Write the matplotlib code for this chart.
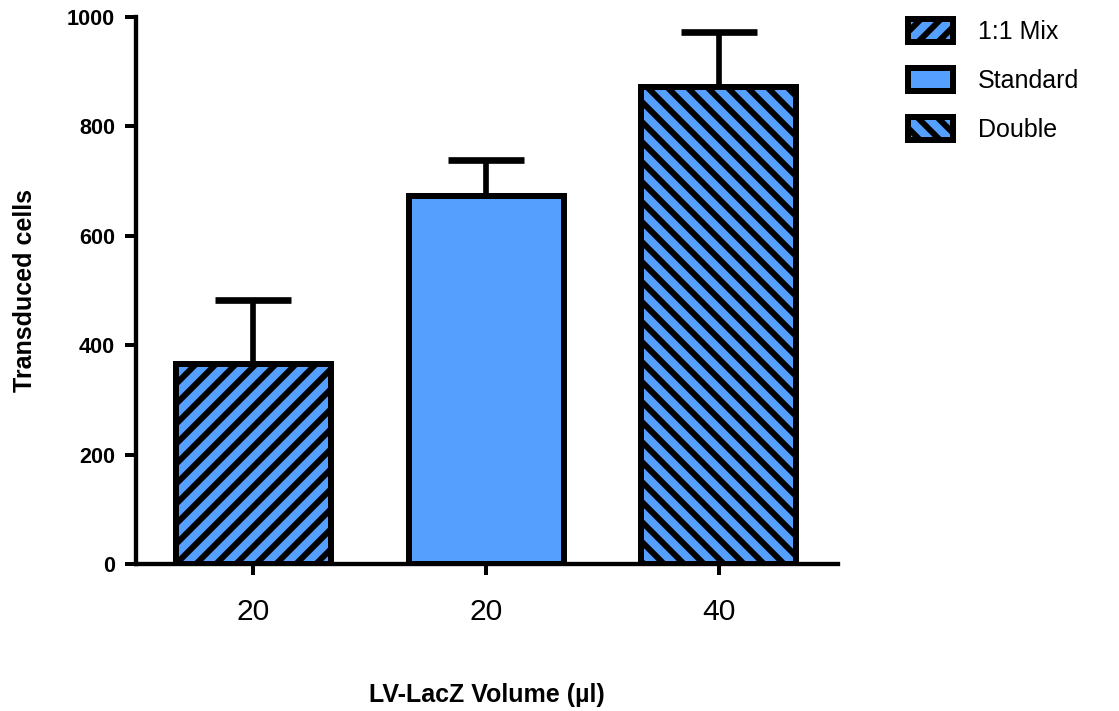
import matplotlib
matplotlib.use("Agg")
import matplotlib.pyplot as plt

# transduction counts per condition (mean and upper error)
groups = ["1:1 Mix", "Standard", "Double"]
volumes = ["20", "20", "40"]
means = [366, 673, 872]
errors = [116, 65, 100]
hatches = ["//", "", "\\\\"]

blue = "#55A0FF"
plt.rcParams['font.family'] = ['Liberation Sans', 'DejaVu Sans']
plt.rcParams['hatch.linewidth'] = 3.6
plt.rcParams['hatch.color'] = 'black'

DPI = 120
fig = plt.figure(figsize=(1119 / DPI, 711 / DPI), dpi=DPI)
ax = fig.add_axes([0.1215, 0.2068, 0.7485 - 0.1215, 0.976 - 0.2068])

x = list(range(len(groups)))

# error bars only go up, drawn under the bars
ax.errorbar(x, means, yerr=[[0] * len(means), errors], fmt='none',
            ecolor='black', elinewidth=3.4, capsize=22.8, capthick=4.0,
            zorder=1)

bars = ax.bar(x, means, width=0.667, color=blue, edgecolor='black',
              linewidth=3.6, zorder=2)
for b, h, name in zip(bars, hatches, groups):
    b.set_hatch(h)
    b.set_label(name)

ax.set_xlim(-0.505, 2.51)
ax.set_ylim(0, 1000)
ax.set_yticks(range(0, 1001, 200))
ax.set_xticks(x)
ax.set_xticklabels(volumes)

for side in ['top', 'right']:
    ax.spines[side].set_visible(False)
for side in ['left', 'bottom']:
    ax.spines[side].set_linewidth(2.6)

ax.tick_params(axis='y', direction='out', length=6.6, width=2.4, pad=6,
               labelsize=13)
ax.tick_params(axis='x', direction='out', length=6.6, width=2.4, pad=14,
               labelsize=18)
for lab in ax.get_yticklabels():
    lab.set_fontweight('bold')

ax.set_ylabel("Transduced cells", fontsize=15, fontweight='bold',
              labelpad=18)
ax.set_xlabel("LV-LacZ Volume (\u00b5l)", fontsize=15, fontweight='bold',
              labelpad=34)

fig.legend(handles=list(bars), labels=groups, loc='upper left',
           bbox_to_anchor=(908 / 1119, 1 - 19 / 711), frameon=False,
           fontsize=15, handlelength=1.8, handleheight=1.05,
           handletextpad=1.0, labelspacing=0.95, borderpad=0,
           borderaxespad=0)

fig.savefig("out.png", dpi=DPI)
